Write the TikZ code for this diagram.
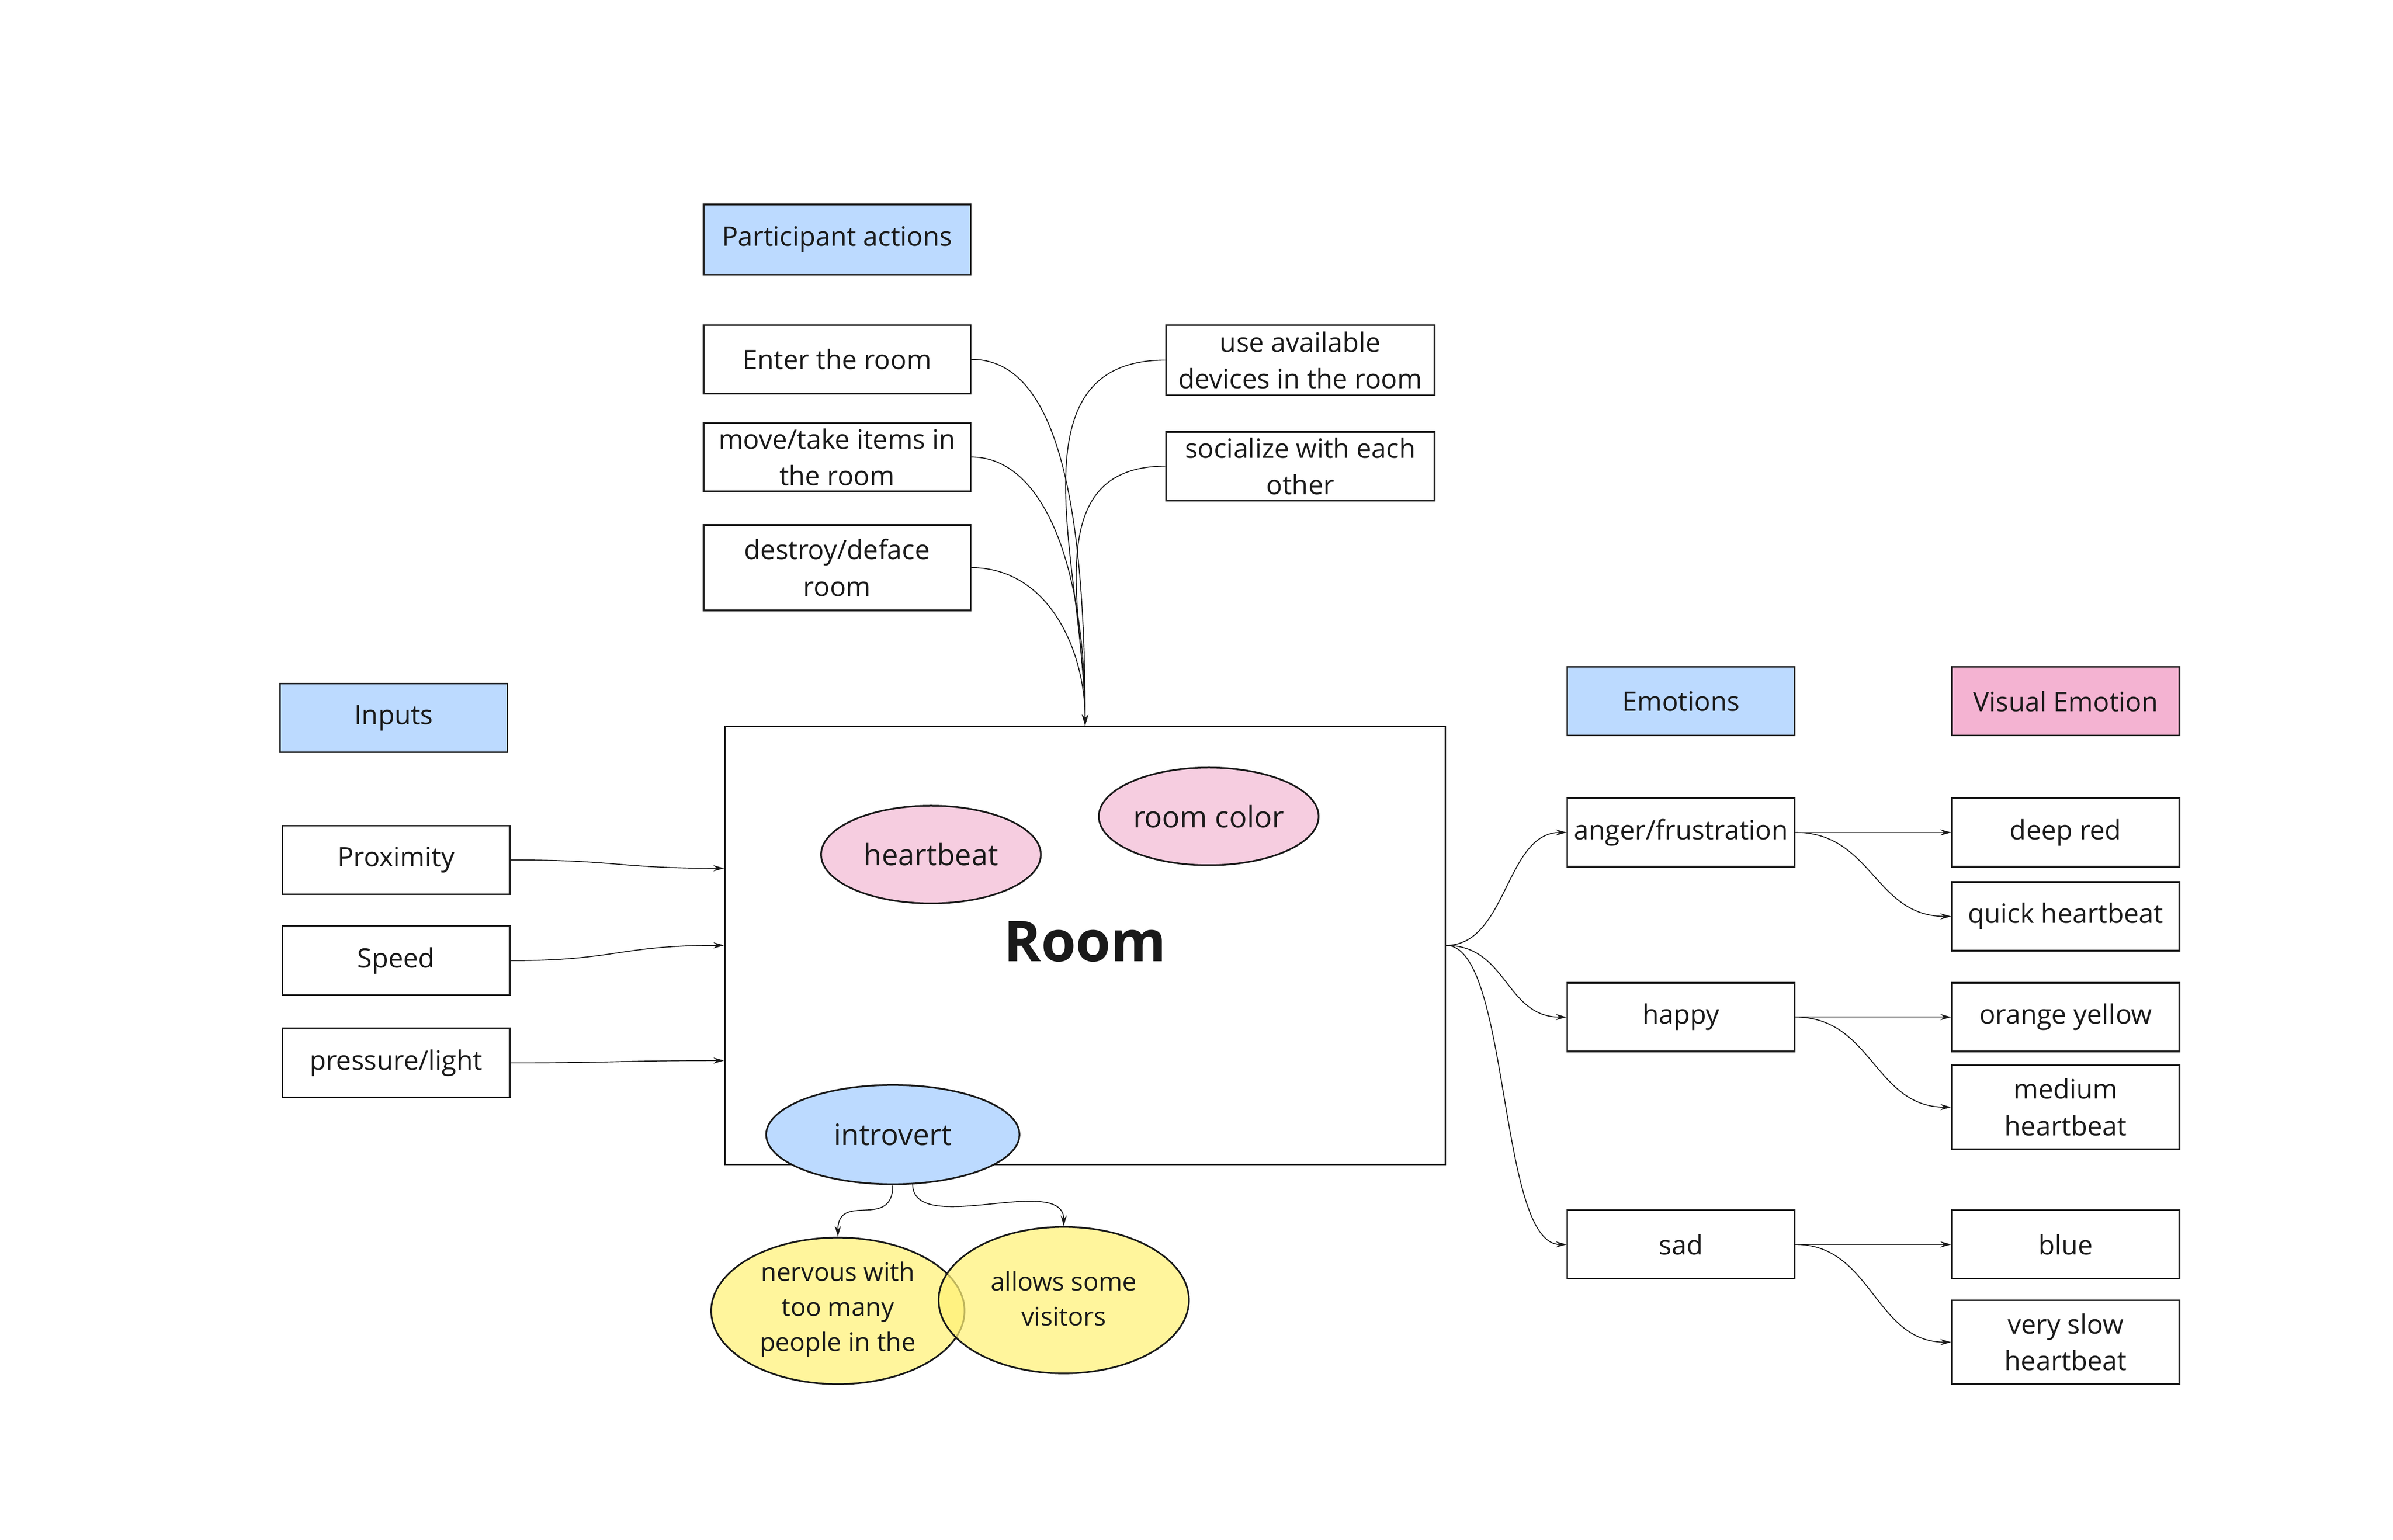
\documentclass[tikz,border=0pt]{standalone}
\usepackage{fontspec}
\setmainfont{Open Sans}
\usetikzlibrary{arrows.meta,shapes.geometric}
\definecolor{hdrblue}{HTML}{BCDAFF}
\definecolor{hdrpink}{HTML}{F4B3D2}
\definecolor{lpink}{HTML}{F6CDE0}
\definecolor{ylw}{HTML}{FFF176}
\definecolor{ink}{HTML}{1A1A1A}
\newcommand{\boxfont}{\fontsize{17.5}{24}\selectfont}
\newcommand{\ellfont}{\fontsize{19.3}{24}\selectfont}
\newcommand{\yfont}{\fontsize{16.7}{23}\selectfont}
\tikzset{
  box/.style={draw=ink, line width=1.1pt, fill=white, rectangle, align=center,
    inner sep=0pt, text=ink, font=\boxfont},
  bluebox/.style={box, fill=hdrblue},
  pinkbox/.style={box, fill=hdrpink},
  ell/.style={draw=ink, line width=1.1pt, ellipse, inner sep=0pt},
  conn/.style={draw=ink, line width=0.6pt, -{Stealth[length=7pt,width=4pt]}},
}
\begin{document}
\begin{tikzpicture}[x=1pt,y=-1pt]
\useasboundingbox (0,0) rectangle (1568,1009);

% participant actions
\node[bluebox, minimum width=175pt, minimum height=46pt] (pa) at (548.5,157) {Participant actions};
\node[box, minimum width=175pt, minimum height=45pt] (enter) at (548.5,235.5) {Enter the room};
\node[box, minimum width=175pt, minimum height=45pt] (move) at (548.5,299.5) {move/take items in\\the room};
\node[box, minimum width=175pt, minimum height=56pt] (destroy) at (548.5,372) {destroy/deface\\room};
\node[box, minimum width=176pt, minimum height=46pt] (use) at (852,236) {use available\\devices in the room};
\node[box, minimum width=176pt, minimum height=45pt] (soc) at (852,305.5) {socialize with each\\other};

% room
\node[box, minimum width=472pt, minimum height=287pt] (room) at (711,619.5) {};
\node[text=ink, font=\fontsize{37}{44}\selectfont\bfseries] (roomlbl) at (711,617) {Room};
\node[ell, fill=lpink, minimum width=144pt, minimum height=64pt] (heart) at (610,560) {};
\node[text=ink, font=\ellfont] (heartlbl) at (heart) {heartbeat};
\node[ell, fill=lpink, minimum width=144pt, minimum height=64pt] (rcolor) at (792,535) {};
\node[text=ink, font=\ellfont] (rcolorlbl) at (rcolor) {room color};
\node[ell, fill=hdrblue, minimum width=166pt, minimum height=65pt] (intro) at (585,743.5) {};
\node[text=ink, font=\ellfont] (introlbl) at (intro) {introvert};

% yellow ellipses
\node[ell, fill=ylw, fill opacity=0.72, minimum width=166pt, minimum height=96pt] (nerv) at (549,859) {};
\node[ell, fill=ylw, fill opacity=0.72, minimum width=164pt, minimum height=96pt] (allow) at (697,852) {};
\node[text=ink, font=\yfont, align=center] (nervlbl) at (549,858) {nervous with\\too many\\people in the};
\node[text=ink, font=\yfont, align=center] (allowlbl) at (697,851) {allows some\\visitors};

% inputs
\node[bluebox, minimum width=149pt, minimum height=45pt] (inputs) at (258,470.5) {Inputs};
\node[box, minimum width=149pt, minimum height=45pt] (prox) at (259.5,563.5) {Proximity};
\node[box, minimum width=149pt, minimum height=45pt] (speed) at (259.5,629.5) {Speed};
\node[box, minimum width=149pt, minimum height=45pt] (press) at (259.5,696.5) {pressure/light};

% emotions
\node[bluebox, minimum width=149pt, minimum height=45pt] (emo) at (1101.5,459.5) {Emotions};
\node[pinkbox, minimum width=149pt, minimum height=45pt] (vis) at (1353.5,459.5) {Visual Emotion};
\node[box, minimum width=149pt, minimum height=45pt] (anger) at (1101.5,545.5) {anger/frustration};
\node[box, minimum width=149pt, minimum height=45pt] (happy) at (1101.5,666.5) {happy};
\node[box, minimum width=149pt, minimum height=45pt] (sad) at (1101.5,815.5) {sad};
\node[box, minimum width=149pt, minimum height=45pt] (deepred) at (1353.5,545.5) {deep red};
\node[box, minimum width=149pt, minimum height=45pt] (quick) at (1353.5,600.5) {quick heartbeat};
\node[box, minimum width=149pt, minimum height=45pt] (orange) at (1353.5,666.5) {orange yellow};
\node[box, minimum width=149pt, minimum height=55pt] (medium) at (1353.5,725.5) {medium\\heartbeat};
\node[box, minimum width=149pt, minimum height=45pt] (blue) at (1353.5,815.5) {blue};
\node[box, minimum width=149pt, minimum height=55pt] (slow) at (1353.5,879.5) {very slow\\heartbeat};

% participant connectors
\draw[conn] (enter.east) .. controls +(55,0) and +(0,-150) .. (room.north);
\draw[conn] (move.east) .. controls +(45,0) and +(0,-110) .. (room.north);
\draw[conn] (destroy.east) .. controls +(50,0) and +(0,-50) .. (room.north);
\draw[conn] (use.west) .. controls +(-104,0) and +(0,-100) .. (room.north);
\draw[conn] (soc.west) .. controls +(-84,0) and +(0,-70) .. (room.north);

% input connectors
\draw[conn] (prox.east) .. controls +(70,0) and +(-70,0) .. ([yshift=50.5pt]room.west);
\draw[conn] (speed.east) .. controls +(70,0) and +(-70,0) .. (room.west);
\draw[conn] (press.east) .. controls +(70,0) and +(-70,0) .. ([yshift=-75.5pt]room.west);

% emotion connectors
\draw[conn] (room.east) .. controls +(40,0) and +(-40,0) .. (anger.west);
\draw[conn] (room.east) .. controls +(40,0) and +(-40,0) .. (happy.west);
\draw[conn] (room.east) .. controls +(42,0) and +(-45,0) .. (sad.west);

\draw[conn] (anger.east) -- (deepred.west);
\draw[conn] (anger.east) .. controls +(50,0) and +(-50,0) .. (quick.west);
\draw[conn] (happy.east) -- (orange.west);
\draw[conn] (happy.east) .. controls +(50,0) and +(-50,0) .. (medium.west);
\draw[conn] (sad.east) -- (blue.west);
\draw[conn] (sad.east) .. controls +(50,0) and +(-50,0) .. (slow.west);

% introvert connectors
\draw[conn] (intro.south) .. controls +(0,30) and +(0,-30) .. (nerv.north);
\draw[conn] ([xshift=13pt,yshift=0.6pt]intro.south) .. controls +(0,35) and +(0,-35) .. (allow.north);
\end{tikzpicture}
\end{document}
